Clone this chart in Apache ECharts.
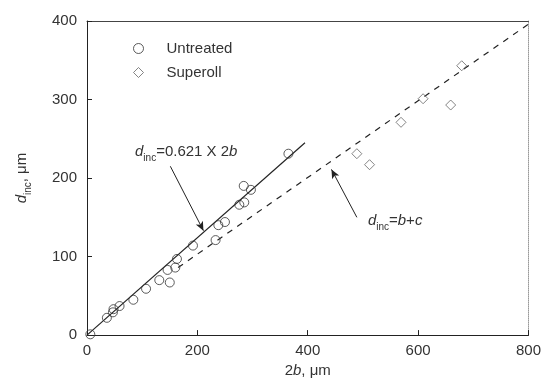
<!DOCTYPE html>
<html>
<head>
<meta charset="utf-8">
<script src="https://cdn.jsdelivr.net/npm/echarts@6/dist/echarts.min.js"></script>
<style>
  html, body { margin: 0; padding: 0; background: #fff; }
  #chart { width: 544px; height: 383px; }
</style>
</head>
<body>
<div id="chart"></div>
<script>
// values (2b and d_inc, in um)
const untreatedX = [6, 36, 47, 48, 59, 84, 107, 131, 146, 150, 160, 163, 192, 233, 238, 250, 276, 285, 284, 297, 365];
const untreatedY = [1, 22, 29, 33, 37, 45, 59, 70, 83, 67, 86, 97, 114, 121, 140, 144, 166, 169, 190, 185, 231];
const superollX = [489, 512, 569, 609, 659, 679];
const superollY = [231, 217, 271, 301, 293, 343];

// fitted lines (end points)
const fitX = [0, 395];
const fitY = [0, 245];
const sumX = [165, 800];
const sumY = [86, 396];

const xTicks = [0, 200, 400, 600, 800];
const yTicks = [0, 100, 200, 300, 400];

const font = 'Liberation Sans';
const ink = '#333';

const pairs = (xs, ys) => xs.map((x, i) => [x, ys[i]]);

const rich = {
    d: { fontFamily: font, fontSize: 15, fontStyle: 'italic', color: ink },
    sub: { fontFamily: font, fontSize: 10, color: ink, padding: [12, 0, 0, 0] },
    t: { fontFamily: font, fontSize: 15, color: ink },
};

const option = {
    animation: false,
    backgroundColor: '#fff',
    textStyle: { fontFamily: font },
    grid: { left: 87, right: 15, top: 21, bottom: 47 },
    legend: {
        orient: 'vertical',
        left: 128,
        top: 36,
        itemWidth: 10,
        itemHeight: 10,
        itemGap: 9,
        itemStyle: { borderWidth: 1 },
        textStyle: { fontFamily: font, fontSize: 15, color: ink, padding: [0, 0, 0, 18] },
        data: [
            { name: 'Untreated', icon: 'circle' },
            { name: 'Superoll', icon: 'diamond' },
        ],
    },
    xAxis: [{
        type: 'value',
        min: 0, max: 800, interval: 200,
        name: '{t|2}{d|b}{t|, μm}',
        nameLocation: 'middle',
        nameGap: 27,
        nameTextStyle: { rich: rich },
        axisLine: { lineStyle: { color: '#222', width: 1 } },
        axisTick: { inside: true, length: 5, lineStyle: { color: '#222' } },
        axisLabel: { fontFamily: font, fontSize: 15, color: ink, margin: 8,
            formatter: v => xTicks.includes(v) ? String(v) : '' },
        splitLine: { show: false },
    }, {
        type: 'value', position: 'top', min: 0, max: 800,
        axisLine: { show: true, onZero: false, lineStyle: { color: '#444' } },
        axisTick: { show: false }, axisLabel: { show: false }, splitLine: { show: false },
    }],
    yAxis: [{
        type: 'value',
        min: 0, max: 400, interval: 100,
        name: '{d|d}{sub|inc}{t|, μm}',
        nameLocation: 'middle',
        nameGap: 54,
        nameRotate: 90,
        nameTextStyle: { rich: rich },
        axisLine: { show: true, lineStyle: { color: '#222', width: 1 } },
        axisTick: { show: true, inside: true, length: 5, lineStyle: { color: '#222' } },
        axisLabel: { fontFamily: font, fontSize: 15, color: ink, margin: 10,
            formatter: v => yTicks.includes(v) ? String(v) : '' },
        splitLine: { show: false },
    }, {
        type: 'value', position: 'right', min: 0, max: 400,
        axisLine: { show: true, onZero: false, lineStyle: { color: '#999', type: 'dotted' } },
        axisTick: { show: false }, axisLabel: { show: false }, splitLine: { show: false },
    }],
    series: [
        {
            name: 'fit',
            type: 'line',
            data: pairs(fitX, fitY),
            symbol: 'none',
            lineStyle: { color: '#222', width: 1.2 },
            z: 3,
            markPoint: {
                symbol: 'circle', symbolSize: 0,
                label: {
                    show: true, position: 'right', distance: 0,
                    formatter: '{d|d}{sub|inc}{t|=0.621 X 2}{d|b}',
                    rich: rich,
                },
                data: [{ coord: [87, 233] }],
            },
            markLine: {
                silent: true,
                symbol: ['none', 'arrow'],
                symbolSize: [6, 9],
                label: { show: false },
                lineStyle: { color: '#222', width: 1, type: 'solid' },
                data: [[{ coord: [151, 215] }, { coord: [211, 133] }]],
            },
        },
        {
            name: 'sum',
            type: 'line',
            data: pairs(sumX, sumY),
            symbol: 'none',
            lineStyle: { color: '#222', width: 1.2, type: [6, 6] },
            z: 3,
            markPoint: {
                symbol: 'circle', symbolSize: 0,
                label: {
                    show: true, position: 'right', distance: 0,
                    formatter: '{d|d}{sub|inc}{t|=}{d|b}{t|+}{d|c}',
                    rich: rich,
                },
                data: [{ coord: [509, 145] }],
            },
            markLine: {
                silent: true,
                symbol: ['none', 'arrow'],
                symbolSize: [6, 9],
                label: { show: false },
                lineStyle: { color: '#222', width: 1, type: 'solid' },
                data: [[{ coord: [489, 150] }, { coord: [443, 211] }]],
            },
        },
        {
            name: 'Untreated',
            type: 'scatter',
            data: pairs(untreatedX, untreatedY),
            symbol: 'circle',
            symbolSize: 9,
            itemStyle: { color: 'rgba(255,255,255,0)', borderColor: '#333', borderWidth: 1 },
            z: 4,
        },
        {
            name: 'Superoll',
            type: 'scatter',
            data: pairs(superollX, superollY),
            symbol: 'diamond',
            symbolSize: 10,
            itemStyle: { color: 'rgba(255,255,255,0)', borderColor: '#666', borderWidth: 1 },
            z: 4,
        },
    ],
};

const chart = echarts.init(document.getElementById('chart'));
chart.setOption(option);
</script>
</body>
</html>
